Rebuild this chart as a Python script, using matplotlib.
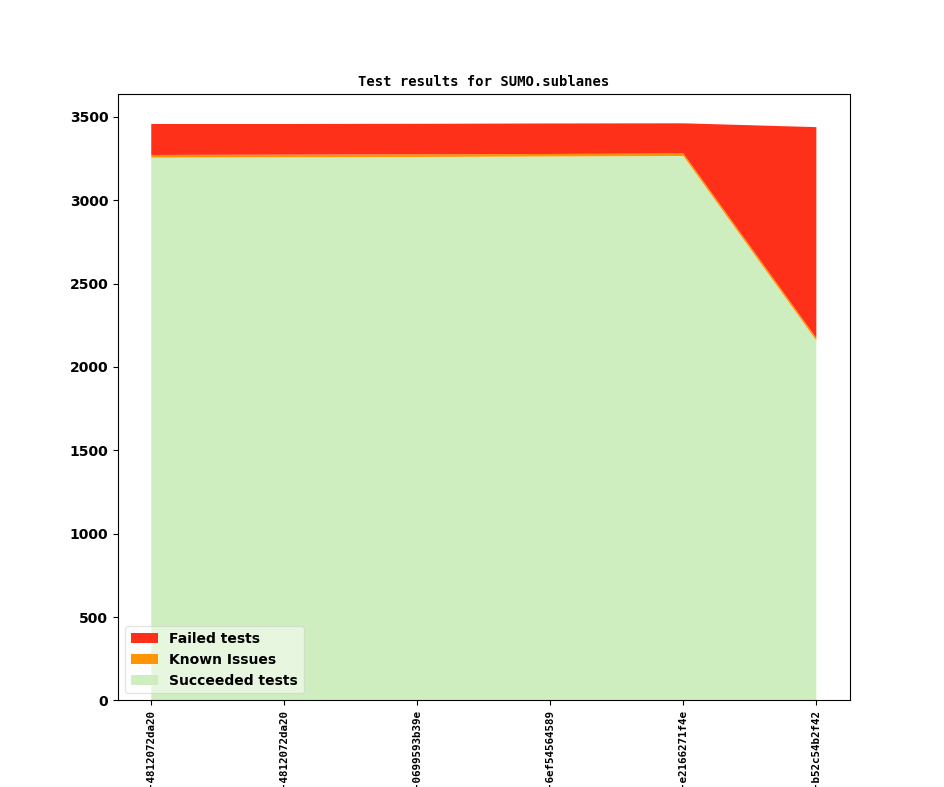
import matplotlib
matplotlib.use('Agg')
import matplotlib.pyplot as plt
import numpy as np

# test runs (newest last)
revisions = [
    "v1_17_0+0712-4812072da20",
    "v1_17_0+0712-4812072da20",
    "v1_17_0+0730-0699593b39e",
    "v1_17_0+0745-6ef54564589",
    "v1_17_0+0761-e2166271f4e",
    "v1_17_0+0779-b52c54b2f42",
]
succeeded = [3255, 3257, 3259, 3262, 3265, 2158]
known_issues = [16, 16, 16, 15, 15, 15]
failed = [186, 184, 183, 183, 181, 1265]

colors = ["#cfeebf", "#ff9500", "#ff3019"]
labels = ["Succeeded tests", "Known Issues", "Failed tests"]

fig = plt.figure(figsize=(9.44, 7.87), dpi=100)
ax = fig.add_subplot(111)

x = np.arange(len(revisions))
ax.stackplot(x, succeeded, known_issues, failed, colors=colors, labels=labels)

ax.set_title("Test results for SUMO.sublanes", family="monospace",
             fontweight="bold", fontsize=10)
ax.set_xticks(x)
ax.set_xticklabels(revisions, rotation=90, family="monospace",
                   fontweight="bold", fontsize=7.8)
for lbl in ax.get_yticklabels():
    lbl.set_fontweight("bold")

# legend in reverse order (failed on top)
handles, lbls = ax.get_legend_handles_labels()
ax.legend(handles[::-1], lbls[::-1], loc="lower left", framealpha=0.5,
          prop={"weight": "bold", "size": 10})

plt.savefig("out.png", dpi=100)
